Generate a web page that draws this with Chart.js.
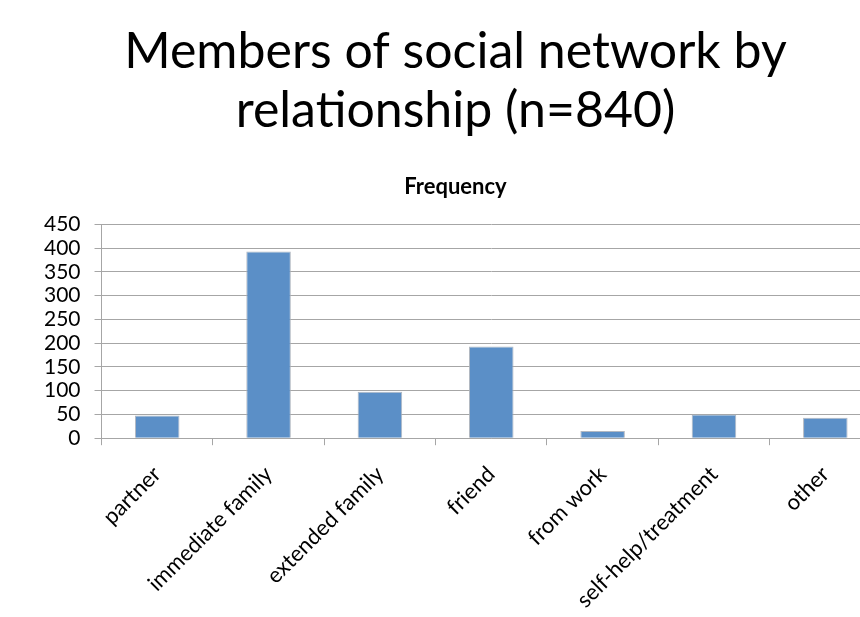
<!DOCTYPE html>
<html>
<head>
<meta charset="utf-8">
<script src="https://cdn.jsdelivr.net/npm/chart.js@4"></script>
<style>
  html, body { margin: 0; padding: 0; background: #fff; overflow: hidden; }
  #wrap { width: 920px; height: 617px; }
</style>
</head>
<body>
<div id="wrap"><canvas id="relChart" width="920" height="617"></canvas></div>
<script>
// Social network members, counted by relationship
const categories = ['partner', 'immediate family', 'extended family', 'friend', 'from work', 'self-help/treatment', 'other'];
const frequency = [48, 393, 98, 193, 15, 50, 43];
const yTicks = [0, 50, 100, 150, 200, 250, 300, 350, 400, 450];

const FONT = "Lato, 'Open Sans', sans-serif";

document.addEventListener('DOMContentLoaded', function () {
  const el = document.getElementById('relChart');
  // eslint-disable-next-line no-undef
  new Chart(el.getContext('2d'), {
    type: 'bar',
    data: {
      labels: categories,
      datasets: [{
        label: 'Frequency',
        data: frequency,
        backgroundColor: '#5b8fc7',
        borderColor: 'rgba(170,176,186,0.9)',
        borderWidth: 1,
        barPercentage: 0.4,
        categoryPercentage: 1.0
      }]
    },
    options: {
      responsive: false,
      animation: false,
      // the rotated labels reserve more room than they use, so the bottom pad is negative
      layout: { padding: { left: 30, right: 39, top: 22, bottom: -12 } },
      plugins: {
        legend: { display: false },
        tooltip: { enabled: false },
        title: {
          display: true,
          text: ['Members of social network by', 'relationship (n=840)'],
          color: '#000',
          font: { family: FONT, size: 50, weight: 'normal', lineHeight: 1.18 },
          padding: { top: 0, bottom: 34 }
        },
        subtitle: {
          display: true,
          text: 'Frequency',
          color: '#000',
          font: { family: FONT, size: 22, weight: 'bold' },
          padding: { top: 0, bottom: 24 }
        }
      },
      scales: {
        x: {
          grid: { display: true, drawOnChartArea: false, offset: true, color: '#a6a6a6', tickLength: 7 },
          border: { color: '#a6a6a6' },
          ticks: {
            color: '#000',
            font: { family: FONT, size: 22 },
            maxRotation: 45,
            minRotation: 45,
            padding: 16
          }
        },
        y: {
          min: 0,
          max: 450,
          afterBuildTicks: axis => { axis.ticks = yTicks.map(v => ({ value: v })); },
          grid: { color: '#a6a6a6', tickLength: 7 },
          border: { color: '#a6a6a6' },
          ticks: {
            autoSkip: false,
            color: '#000',
            font: { family: FONT, size: 21 },
            padding: 14
          }
        }
      }
    }
  });
});
</script>
</body>
</html>
